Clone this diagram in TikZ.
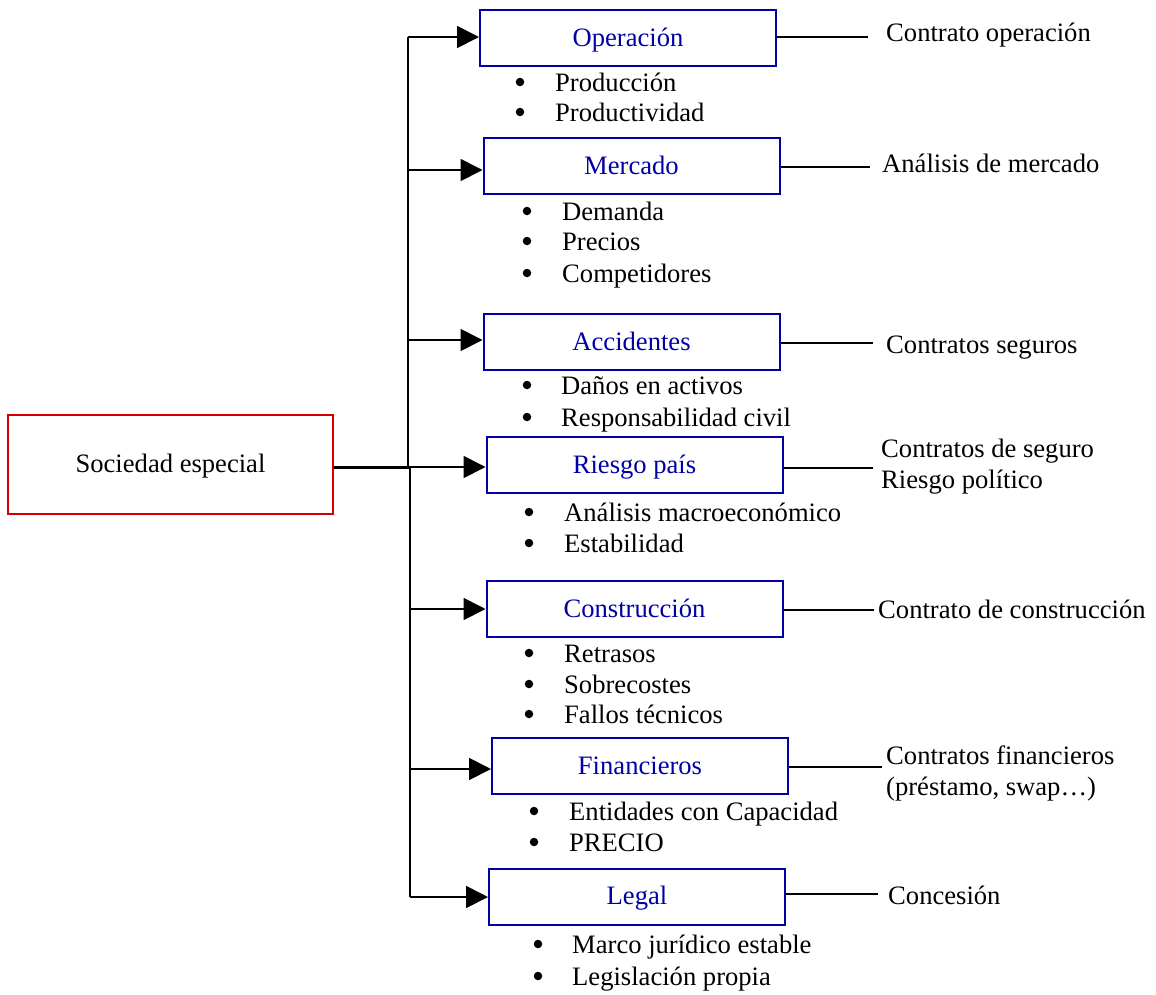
\documentclass[tikz,border=0pt]{standalone}
\usepackage{fontspec}
\setmainfont{Liberation Serif}
\usetikzlibrary{arrows.meta}
\definecolor{boxblue}{RGB}{0,0,165}
\definecolor{boxred}{RGB}{210,0,0}
\begin{document}
\begin{tikzpicture}[x=1pt,y=-1pt,
  font=\fontsize{26.6}{31}\selectfont,
  catbox/.style={draw=boxblue,line width=2pt,minimum width=296pt,minimum height=56pt,inner sep=0pt,text=boxblue,text height=20pt,text depth=4pt},
  rootbox/.style={draw=boxred,line width=2pt,minimum width=325pt,minimum height=99pt,inner sep=0pt,text height=20pt,text depth=4pt},
  conn/.style={line width=1.8pt},
  arr/.style={line width=1.8pt,-{Triangle[length=22pt,width=22pt]}},
  txt/.style={anchor=base west,inner sep=0pt},
  bul/.style={circle,fill=black,inner sep=0pt,minimum size=8.5pt}]
\useasboundingbox (0,0) rectangle (1156,994);

% root
\node[rootbox] (soc) at (170.5,464.5) {Sociedad especial};

% category boxes
\node[catbox] (op)  at (628,38)    {Operación};
\node[catbox] (mer) at (631.5,166) {Mercado};
\node[catbox] (acc) at (631.5,342) {Accidentes};
\node[catbox] (rp)  at (634.5,465) {Riesgo país};
\node[catbox] (con) at (634.5,609) {Construcción};
\node[catbox] (fin) at (640,766)   {Financieros};
\node[catbox] (leg) at (637,896.5) {Legal};

% spine coordinates
\coordinate (j)  at (409,467);
\coordinate (s1) at (408,37);
\coordinate (s2) at (408,170);
\coordinate (s3) at (408,340);
\coordinate (s5) at (410,609);
\coordinate (s6) at (410,769);
\coordinate (s7) at (410,897);

\draw[line width=3pt] (soc.east |- j) -- (j);
\draw[conn] (408,467) -- (s1);
\draw[conn] (410,467) -- (s7);
\draw[arr] (s1) -- (s1 -| op.west);
\draw[arr] (s2) -- (s2 -| mer.west);
\draw[arr] (s3) -- (s3 -| acc.west);
\draw[arr] (j) -- (j -| rp.west);
\draw[arr] (s5) -- (s5 -| con.west);
\draw[arr] (s6) -- (s6 -| fin.west);
\draw[arr] (s7) -- (s7 -| leg.west);

% right connectors
\coordinate (e1) at (868,37);
\coordinate (e2) at (870,167);
\coordinate (e3) at (873,343);
\coordinate (e4) at (873,468);
\coordinate (e5) at (874,610);
\coordinate (e6) at (882,767);
\coordinate (e7) at (878,894);
\draw[conn] (e1 -| op.east) -- (e1);
\draw[conn] (e2 -| mer.east) -- (e2);
\draw[conn] (e3 -| acc.east) -- (e3);
\draw[conn] (e4 -| rp.east) -- (e4);
\draw[conn] (e5 -| con.east) -- (e5);
\draw[conn] (e6 -| fin.east) -- (e6);
\draw[conn] (e7 -| leg.east) -- (e7);

% right texts
\node[txt] (t1) at (886,41) {Contrato operación};
\node[txt] (t2) at (882,172) {Análisis de mercado};
\node[txt] (t3) at (886,353) {Contratos seguros};
\node[txt] (t4a) at (881,457) {Contratos de seguro};
\node[txt] (t4b) at (881,488) {Riesgo político};
\node[txt] (t5) at (878,618) {Contrato de construcción};
\node[txt] (t6a) at (886,764) {Contratos financieros};
\node[txt] (t6b) at (886,795) {(préstamo, swap…)};
\node[txt] (t7) at (888,904) {Concesión};

% bullets
\node[bul] (b11) at (520,82) {};   \node[txt] (l11) at (555,91) {Producción};
\node[bul] (b12) at (520,112) {};  \node[txt] (l12) at (555,121) {Productividad};

\node[bul] (b21) at (527,211) {};  \node[txt] (l21) at (562,220) {Demanda};
\node[bul] (b22) at (527,241) {};  \node[txt] (l22) at (562,250) {Precios};
\node[bul] (b23) at (527,273) {};  \node[txt] (l23) at (562,282) {Competidores};

\node[bul] (b31) at (527,385) {};  \node[txt] (l31) at (561,394) {Daños en activos};
\node[bul] (b32) at (527,417) {};  \node[txt] (l32) at (561,426) {Responsabilidad civil};

\node[bul] (b41) at (529,512) {};  \node[txt] (l41) at (564,521) {Análisis macroeconómico};
\node[bul] (b42) at (529,543) {};  \node[txt] (l42) at (564,552) {Estabilidad};

\node[bul] (b51) at (529,653) {};  \node[txt] (l51) at (564,662) {Retrasos};
\node[bul] (b52) at (529,684) {};  \node[txt] (l52) at (564,693) {Sobrecostes};
\node[bul] (b53) at (529,714) {};  \node[txt] (l53) at (564,723) {Fallos técnicos};

\node[bul] (b61) at (534,811) {};  \node[txt] (l61) at (569,820) {Entidades con Capacidad};
\node[bul] (b62) at (534,842) {};  \node[txt] (l62) at (569,851) {PRECIO};

\node[bul] (b71) at (538,944) {};  \node[txt] (l71) at (572,953) {Marco jurídico estable};
\node[bul] (b72) at (538,976) {};  \node[txt] (l72) at (572,985) {Legislación propia};
\end{tikzpicture}
\end{document}
